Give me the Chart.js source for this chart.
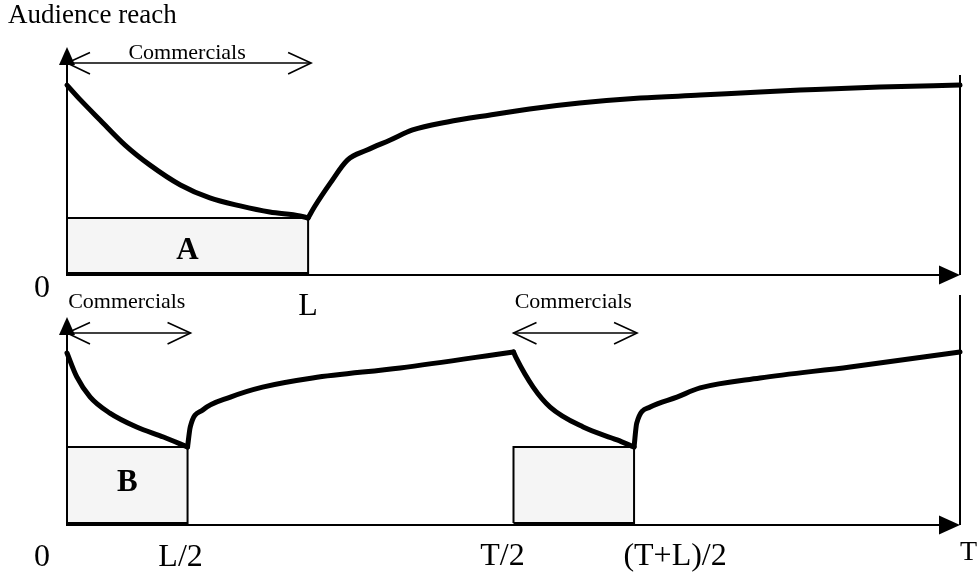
<!DOCTYPE html>
<html>
<head>
<meta charset="utf-8">
<script src="https://cdn.jsdelivr.net/npm/chart.js@4.4.1/dist/chart.umd.min.js"></script>
<style>
  body { margin: 0; background: #fff; }
  #wrap { position: relative; width: 977px; height: 576px; }
  #wrap canvas { position: absolute; left: 0; top: 0; }
</style>
</head>
<body>
<div id="wrap">
  <canvas id="topChart" width="977" height="576"></canvas>
  <canvas id="botChart" width="977" height="576"></canvas>
</div>
<script>
// time axis: T = 100, commercial length L
const T = 100, L = 27;

// panel A: one long break at the start
const timeTop  = [0, 1.5, 3.7, 6.5, 9.3, 12.7, 16.0, 19.4, 22.7, 26.1, 27,
                  27.7, 29.5, 31.4, 33.6, 36.2, 38.7, 42.6, 47.4, 51.8, 57.4, 64.2, 70.9, 77.6, 82.1, 91.0, 100];
const reachTop = [83.3, 76.8, 68.0, 57.0, 48.2, 39.5, 33.8, 30.3, 27.6, 25.9, 25.0,
                  29.8, 40.4, 50.4, 54.8, 59.2, 63.6, 67.1, 70.2, 72.8, 75.4, 77.6, 78.9, 80.3, 81.1, 82.5, 83.3];
const breaksTop = [[0, L]];
const rectTopHeight = 25.0;
const ticksTop = [0, L];
const tickLabelsTop = ['0', 'L'];

// panel B: two half breaks
const timeBot  = [0, 1.1, 2.6, 4.8, 7.8, 10.8, 13.5,
                  13.8, 15.2, 18.3, 21.9, 27.5, 37.3, 50,
                  50.3, 52.2, 54.1, 57.8, 61.6, 63.5,
                  63.8, 65.3, 68.3, 70.9, 77.6, 87.7, 100];
const reachBot = [82.7, 71.2, 61.5, 53.8, 47.1, 42.3, 37.5,
                  47.1, 55.3, 61.5, 66.3, 70.7, 75.5, 83.2,
                  80.3, 66.3, 56.7, 47.1, 40.9, 37.5,
                  49.0, 56.7, 61.5, 65.9, 70.7, 76.0, 83.2];
const breaksBot = [[0, L / 2], [T / 2, (T + L) / 2]];
const rectBotHeight = 37.5;
const ticksBot = [0, L / 2, T / 2, (T + L) / 2, T];
const tickLabelsBot = ['0', 'L/2', 'T/2', '(T+L)/2', 'T'];

const SERIF = '"Liberation Serif", "Times New Roman", serif';

function rectPoints(a, b, base, top) {
    return [{x: a, y: base}, {x: a, y: top}, {x: b, y: top}, {x: b, y: base}, {x: a, y: base}];
}

// cut the curve at its turning points so every piece is smooth but the corners stay sharp
function runs(time, reach) {
    const out = [];
    let cur = [{x: time[0], y: reach[0]}];
    for (let i = 1; i < time.length; i++) {
        cur.push({x: time[i], y: reach[i]});
        if (i < time.length - 1 && (reach[i] - reach[i - 1]) * (reach[i + 1] - reach[i]) < 0) {
            out.push(cur);
            cur = [{x: time[i], y: reach[i]}];
        }
    }
    out.push(cur);
    return out;
}

function solidHead(ctx, tx, ty, dx, dy, len, half) {
    const bx = tx - dx * len, by = ty - dy * len;
    ctx.beginPath();
    ctx.moveTo(tx, ty);
    ctx.lineTo(bx - dy * half, by + dx * half);
    ctx.lineTo(bx + dy * half, by - dx * half);
    ctx.closePath();
    ctx.fill();
}

function openHead(ctx, tx, ty, dir) {
    ctx.beginPath();
    ctx.moveTo(tx - dir * 23, ty - 10.5);
    ctx.lineTo(tx, ty);
    ctx.lineTo(tx - dir * 23, ty + 11);
    ctx.stroke();
}

const diagramPlugin = {
    id: 'diagram',
    afterDatasetsDraw(chart, args, opts) {
        const {ctx} = chart;
        const x = chart.scales.x, y = chart.scales.y;
        const x0 = x.getPixelForValue(0), y0 = y.getPixelForValue(0);
        const xT = x.getPixelForValue(T), yMax = y.getPixelForValue(100);
        ctx.save();
        ctx.strokeStyle = '#000';
        ctx.fillStyle = '#000';
        ctx.lineWidth = 2;

        // axes with arrow heads
        ctx.beginPath();
        ctx.moveTo(x0, y0 + 1);
        ctx.lineTo(x0, yMax + 8);
        ctx.moveTo(x0, y0);
        ctx.lineTo(xT - 10, y0);
        ctx.moveTo(xT, y.getPixelForValue(opts.edgeTop));
        ctx.lineTo(xT, y0);
        ctx.stroke();
        solidHead(ctx, x0, yMax, 0, -1, 18, 8);
        solidHead(ctx, xT, y0, 1, 0, 21, 9.5);

        // commercial break arrows
        ctx.lineWidth = 1.6;
        ctx.font = '22px ' + SERIF;
        ctx.textAlign = 'center';
        ctx.textBaseline = 'alphabetic';
        opts.breaks.forEach(([a, b]) => {
            const xa = x.getPixelForValue(a), xb = x.getPixelForValue(b) + 3;
            const ya = y.getPixelForValue(opts.arrowAt);
            ctx.beginPath();
            ctx.moveTo(xa, ya);
            ctx.lineTo(xb, ya);
            ctx.stroke();
            openHead(ctx, xa, ya, -1);
            openHead(ctx, xb, ya, 1);
            ctx.fillText('Commercials', (xa + xb) / 2 - 2, ya - opts.captionGap);
        });

        // tick labels under the time axis
        opts.ticks.forEach((v, i) => {
            const st = opts.tickStyle[i];
            ctx.font = (st.size || 32) + 'px ' + SERIF;
            ctx.textAlign = st.align || 'center';
            ctx.fillText(opts.tickLabels[i], x.getPixelForValue(v) + st.dx, y0 + st.dy);
        });

        // area letters
        ctx.font = 'bold 31px ' + SERIF;
        ctx.textAlign = 'center';
        const [a, b] = opts.breaks[0];
        ctx.fillText(opts.letter, (x.getPixelForValue(a) + x.getPixelForValue(b)) / 2,
            y.getPixelForValue(opts.rectHeight / 2) + opts.letterDy);

        if (opts.title) {
            ctx.font = '27px ' + SERIF;
            ctx.textAlign = 'left';
            ctx.fillText(opts.title, 8, 23);
        }
        ctx.restore();
    }
};

function makePanel(id, time, reach, breaks, rectHeight, rectBase, pad, diagram) {
    const datasets = runs(time, reach).map(pts => ({
        data: pts,
        borderColor: '#000',
        borderWidth: 5,
        borderJoinStyle: 'round',
        borderCapStyle: 'round',
        pointRadius: 0,
        cubicInterpolationMode: 'monotone',
        fill: false,
        clip: false,
        order: 0
    }));
    breaks.forEach(([a, b]) => {
        datasets.push({
            data: rectPoints(a, b, rectBase, rectHeight),
            borderColor: '#000',
            borderWidth: 2,
            backgroundColor: '#f5f5f5',
            pointRadius: 0,
            tension: 0,
            fill: 'shape',
            clip: false,
            order: 1
        });
    });
    return new Chart(document.getElementById(id), {
        type: 'line',
        data: {datasets},
        options: {
            responsive: false,
            animation: false,
            layout: {padding: pad},
            scales: {
                x: {type: 'linear', min: 0, max: T, display: false},
                y: {type: 'linear', min: 0, max: 100, display: false}
            },
            plugins: {
                legend: {display: false},
                tooltip: {enabled: false},
                diagram: Object.assign({breaks, rectHeight}, diagram)
            }
        },
        plugins: [diagramPlugin]
    });
}

makePanel('topChart', timeTop, reachTop, breaksTop, rectTopHeight, 0.9,
    {left: 67, right: 17, top: 47, bottom: 301},
    {
        edgeTop: 87.7,
        arrowAt: 93.0,
        captionGap: 4,
        ticks: ticksTop,
        tickLabels: tickLabelsTop,
        tickStyle: [{dx: -25, dy: 22}, {dx: 0, dy: 40}],
        letter: 'A',
        letterDy: 12,
        title: 'Audience reach'
    });

makePanel('botChart', timeBot, reachBot, breaksBot, rectBotHeight, 1.0,
    {left: 67, right: 17, top: 317, bottom: 51},
    {
        edgeTop: 110.6,
        arrowAt: 92.3,
        captionGap: 25,
        ticks: ticksBot,
        tickLabels: tickLabelsBot,
        tickStyle: [{dx: -25, dy: 41}, {dx: -7, dy: 41}, {dx: -11, dy: 40},
                    {dx: 41, dy: 40}, {dx: 0, dy: 35, align: 'left', size: 28}],
        letter: 'B',
        letterDy: 5
    });
</script>
</body>
</html>
